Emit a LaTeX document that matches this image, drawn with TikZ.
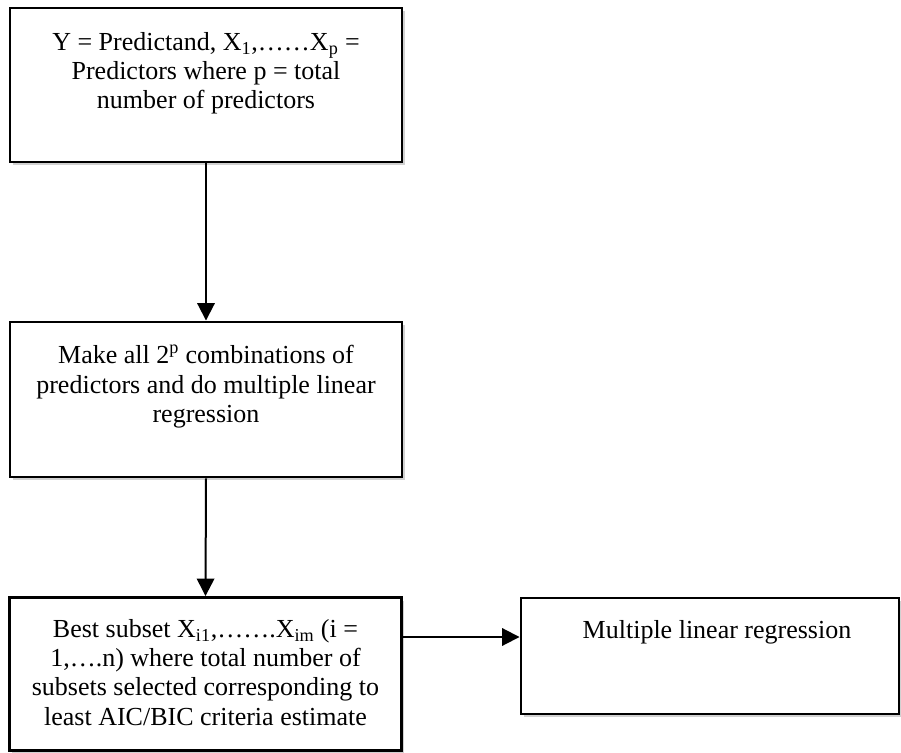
\documentclass[tikz,border=0pt]{standalone}
\usepackage{fontspec}
\setmainfont{Liberation Serif}
\usetikzlibrary{arrows.meta,shadows}
\begin{document}
\begin{tikzpicture}[x=0.75pt,y=-0.75pt,
  box/.style={draw=black, line width=2.2pt, fill=white, inner sep=0pt,
    drop shadow={shadow xshift=2pt, shadow yshift=-2.5pt, opacity=0.18, fill=black}},
  txt/.style={anchor=north, inner sep=0pt, align=center,
    font=\fontsize{19.5}{22}\selectfont},
  arr/.style={line width=1.5pt, -{Triangle[length=13pt,width=13pt]}}]
\useasboundingbox (0,0) rectangle (901,753);
\node[box, minimum width=392*0.75pt, minimum height=154*0.75pt] (b1) at (206,85) {};
\node[box, minimum width=392*0.75pt, minimum height=155*0.75pt] (b2) at (206,399.5) {};
\node[box, minimum width=392*0.75pt, minimum height=153*0.75pt] (b3) at (205.5,674) {};
\node[box, minimum width=378*0.75pt, minimum height=116*0.75pt] (b4) at (710,656) {};
\node[txt] (t1) at (206,32) {Y = Predictand, X\textsubscript{1},……X\textsubscript{p} =\\ Predictors where p = total\\ number of predictors};
\node[txt] (t2) at (206,345) {Make all 2\textsuperscript{p} combinations of\\ predictors and do multiple linear\\ regression};
\node[txt] (t3) at (205.5,619) {Best subset X\textsubscript{i1},…….X\textsubscript{im} (i =\\ 1,….n) where total number of\\ subsets selected corresponding to\\ least AIC/BIC criteria estimate};
\node[txt] (t4) at (717,620) {Multiple linear regression};
\draw[arr] (b1.south) -- (b2.north);
\draw[arr] (b2.south) -- (b3.north);
\draw[arr] ([yshift=14.25pt]b4.west -| b3.east) -- ([yshift=14.25pt]b4.west);
\end{tikzpicture}
\end{document}
